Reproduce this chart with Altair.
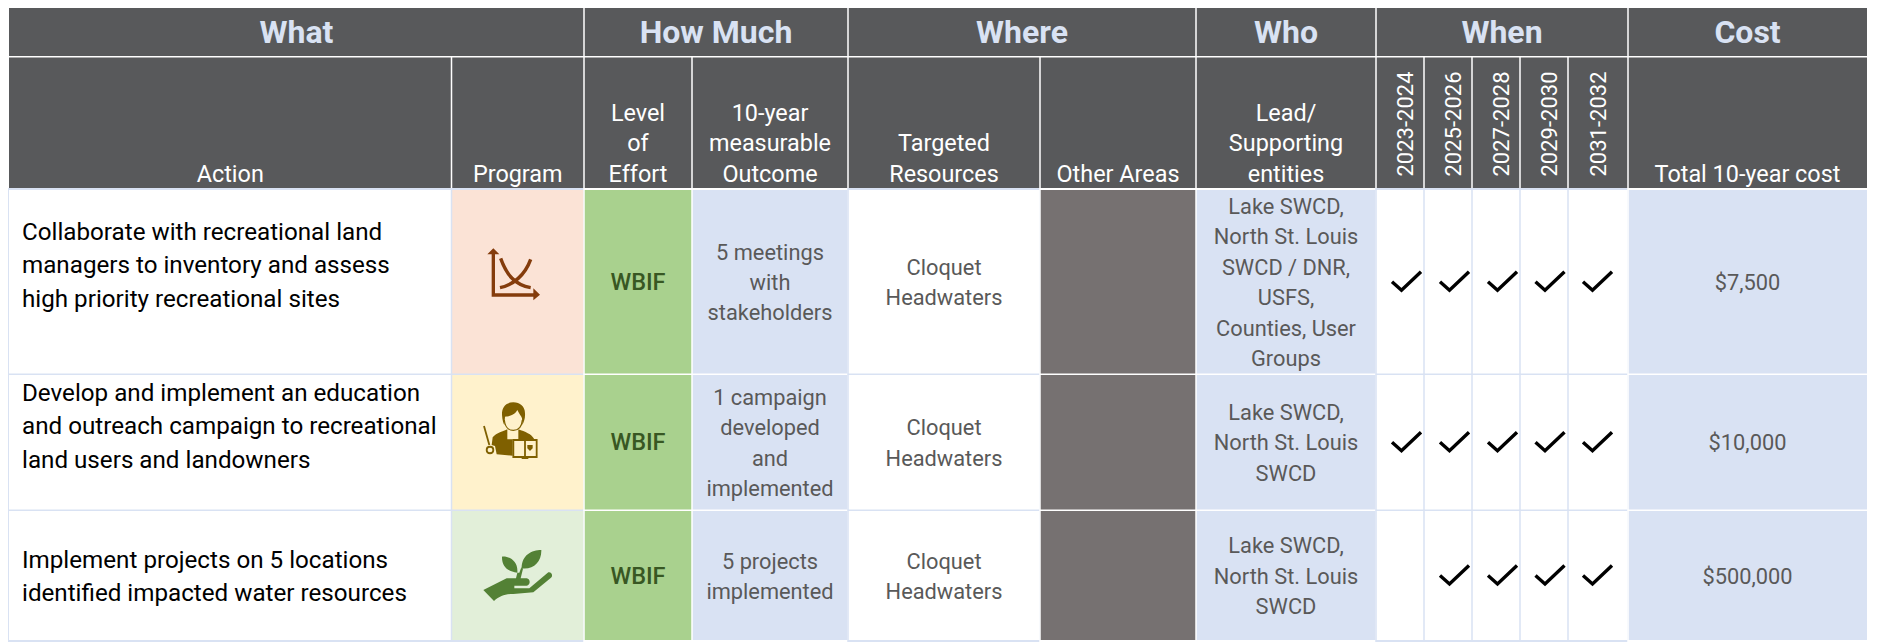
import altair as alt
import pandas as pd

# ---------- table content ----------
GROUPS = ["What", "How Much", "Where", "Who", "When", "Cost"]
COLUMNS = ["Action", "Program", "Level\nof\nEffort", "10-year\nmeasurable\nOutcome",
           "Targeted\nResources", "Other Areas", "Lead/\nSupporting\nentities", "Total 10-year cost"]
PERIODS = ["2023-2024", "2025-2026", "2027-2028", "2029-2030", "2031-2032"]
ACTIONS = ["Collaborate with recreational land\nmanagers to inventory and assess\nhigh priority recreational sites",
           "Develop and implement an education\nand outreach campaign to recreational\nland users and landowners",
           "Implement projects on 5 locations\nidentified impacted water resources"]
EFFORT = ["WBIF", "WBIF", "WBIF"]
OUTCOMES = ["5 meetings\nwith\nstakeholders", "1 campaign\ndeveloped\nand\nimplemented", "5 projects\nimplemented"]
RESOURCES = ["Cloquet\nHeadwaters", "Cloquet\nHeadwaters", "Cloquet\nHeadwaters"]
ENTITIES = ["Lake SWCD,\nNorth St. Louis\nSWCD / DNR,\nUSFS,\nCounties, User\nGroups",
            "Lake SWCD,\nNorth St. Louis\nSWCD", "Lake SWCD,\nNorth St. Louis\nSWCD"]
COSTS = ["$7,500", "$10,000", "$500,000"]
SCHEDULE = [[1, 1, 1, 1, 1], [1, 1, 1, 1, 1], [0, 1, 1, 1, 1]]

# ---------- layout (page pixels) ----------
W_DOM, H_DOM = (8, 1868), (642, 8)
EDGES = [9, 451.5, 584, 692, 848, 1040, 1196, 1376, 1424, 1472, 1520, 1568, 1628, 1867]
ROWS = [(190, 373.5), (375, 509.5), (511, 640)]
HEAD1, HEAD2 = (8, 56), (57.5, 188)
GROUP_SPANS = [(0, 2), (2, 4), (4, 6), (6, 7), (7, 12), (12, 13)]
PERIOD_X = [1405.5, 1453.5, 1502, 1550, 1598.5]
CHECK_X = [1406.5, 1454.5, 1502.5, 1550, 1597.5]
ACTION_Y = [266, 427, 577.5]
GAP = 0.75

DARK, PALE, WHITE = "#58595b", "#d9e2f3", "#ffffff"
GREY_TEXT, OTHER = "#595959", "#767171"
PROGRAM_FILL = ["#fbe3d6", "#fff2cc", "#e2efd9"]
ICON = ["#843c0c", "#7f6000", "#538135"]
BODY_FONT = "Roboto"

X = lambda f="x": alt.X(f + ":Q", scale=alt.Scale(domain=list(W_DOM)), axis=None)
Y = lambda f="y": alt.Y(f + ":Q", scale=alt.Scale(domain=list(H_DOM)), axis=None)


def rects(rows):
    return alt.Chart(pd.DataFrame(rows)).mark_rect(strokeWidth=0).encode(
        x=X("x"), x2="x1:Q", y=Y("y"), y2="y1:Q", color=alt.Color("c:N", scale=None))


def texts(rows, size, color, font=BODY_FONT, weight="normal", align="center", baseline="middle", angle=0):
    return alt.Chart(pd.DataFrame(rows)).mark_text(
        font=font, fontSize=size, fontWeight=weight, color=color, align=align, baseline=baseline,
        angle=angle).encode(x=X("x"), y=Y("y"), text="t:N")


def block(x, y, text, line=30.4):
    """One row per line of a text block centred on y."""
    parts = text.split("\n")
    return [dict(x=x, y=y + (i - (len(parts) - 1) / 2) * line, t=p) for i, p in enumerate(parts)]


def block_up(x, y, text, line=30.3):
    """One row per line of a text block whose last line sits on y."""
    parts = text.split("\n")
    return [dict(x=x, y=y - (len(parts) - 1 - i) * line, t=p) for i, p in enumerate(parts)]


def glyph(path, x, y, color, filled=True, width=1.0, unit=1 / 3):
    d = pd.DataFrame([{"x": x, "y": y}])
    kw = dict(fill=color, strokeWidth=0, opacity=1, fillOpacity=1) if filled else dict(
        stroke=color, strokeWidth=width, fillOpacity=0, opacity=1, filled=False)
    return alt.Chart(d).mark_point(shape=path, size=4 * unit * unit, **kw).encode(x=X("x"), y=Y("y"))


mid = lambda a, b: (a + b) / 2
layers = []

# header cells
head = []
for a, b in GROUP_SPANS:
    head.append(dict(x=EDGES[a] + (GAP if a else 0), x1=EDGES[b] - (GAP if b < 13 else 0),
                     y=HEAD1[0], y1=HEAD1[1], c=DARK))
for i in range(13):
    head.append(dict(x=EDGES[i] + (GAP if i else 0), x1=EDGES[i + 1] - (GAP if i < 12 else 0),
                     y=HEAD2[0], y1=HEAD2[1], c=DARK))
layers.append(rects(head))

# body: backing rule colour, then fill of each cell
BACK = [PALE, PALE, WHITE, WHITE, PALE, WHITE, WHITE, PALE, PALE, PALE, PALE, PALE, WHITE]
back, cells = [], []
for r, (y0, y1) in enumerate(ROWS):
    fills = [WHITE, PROGRAM_FILL[r], "#a9d18e", PALE, WHITE, OTHER, PALE,
             WHITE, WHITE, WHITE, WHITE, WHITE, PALE]
    for i in range(13):
        x0, x1 = EDGES[i], EDGES[i + 1]
        back.append(dict(x=x0 - (1.5 if i == 0 else 0.75), x1=x1 + 0.75, y=y0 - 2, y1=y1 + 2, c=BACK[i]))
        cells.append(dict(x=x0 + (0 if i == 0 else GAP), x1=x1 - (0 if i == 12 else GAP),
                          y=y0, y1=y1, c=fills[i]))
layers += [rects(back), rects(cells)]

# header text
layers.append(texts([dict(x=mid(EDGES[a], EDGES[b]), y=32.5, t=g) for g, (a, b) in zip(GROUPS, GROUP_SPANS)],
                    32, PALE, font="Roboto", weight="bold"))
cols = [0, 1, 2, 3, 4, 5, 6, 12]
rows = []
for i, c in zip(cols, COLUMNS):
    rows += block_up(mid(EDGES[i], EDGES[i + 1]), 181.7, c)
layers.append(texts(rows, 23.4, WHITE, baseline="alphabetic"))
layers.append(texts([dict(x=x, y=124, t=p) for x, p in zip(PERIOD_X, PERIODS)], 22, WHITE, angle=270))

# body text
rows = []
for y, t in zip(ACTION_Y, ACTIONS):
    rows += block(22, y, t, 33.5)
layers.append(texts(rows, 24.2, "#000000", align="left"))
centres = [mid(*r) for r in ROWS]
rows = []
for col, vals in [(3, OUTCOMES), (4, RESOURCES), (6, ENTITIES), (12, COSTS)]:
    for y, t in zip(centres, vals):
        rows += block(mid(EDGES[col], EDGES[col + 1]), y + 1.2, t)
layers.append(texts(rows, 21.8, GREY_TEXT))
layers.append(texts([dict(x=mid(EDGES[2], EDGES[3]), y=y + 1, t=t) for y, t in zip(centres, EFFORT)],
                    23.5, "#385723", weight=500))

# check marks
CHECK = "M-14.5 1 L-5 9.5 L14.5 -9"
for r, row in enumerate(SCHEDULE):
    for x, on in zip(CHECK_X, row):
        if on:
            layers.append(glyph(CHECK, x, centres[r] - 1, "#000000", filled=False, width=3.4, unit=1))

# program icons (glyph outlines in local units)
c = ICON[0]
layers += [
    glyph("M65 100 L75 100 L75 220 L195 220 L195 230 L65 230 Z M52 103 L70 85 L88 103 Z M190 205 L210 224 L190 241 Z",
          470, 220, c),
    glyph("M92 115 C110 165 135 195 182 203 M90 203 C130 195 165 165 182 118", 470, 220, c, filled=False, width=3.4),
]
c = ICON[1]
layers += [
    glyph("M220 127 C195 127 185 145 186 165 C187 180 190 190 193 195 L195 170 C205 170 225 165 232 150 "
          "C240 165 245 170 246 175 L247 195 C252 185 256 175 255 160 C255 140 240 127 220 127 Z "
          "M155 255 L158 232 C170 218 190 215 202 208 L202 238 L218 238 L218 287 L170 283 L165 258 Z "
          "M235 208 C255 215 275 222 283 238 L235 238 Z M262 255 L278 255 L278 265 L270 273 L262 265 Z "
          "M245 292 L265 292 L265 297 L245 297 Z",
          440, 360, c),
    glyph("M193 180 C195 205 210 211 220 211 C232 211 245 205 247 180", 440, 360, c, filled=False, width=1.2),
    glyph("M220 240 L290 240 L290 291 L220 291 Z M255 240 L255 291", 440, 360, c, filled=False, width=1.8),
    glyph("M132 198 L148 255", 440, 360, c, filled=False, width=1.8),
    glyph("M140 270 C140 257 160 257 160 270 C160 283 140 283 140 270 Z", 440, 360, c, filled=False, width=1.8),
]
c = ICON[2]
layers.append(glyph(
    "M96 80 C120 78 145 95 142 128 C115 125 95 110 96 80 Z M214 60 C185 60 155 75 155 115 C190 120 215 95 214 60 Z "
    "M138 145 L142 128 L148 128 L154 112 L159 116 L152 145 Z "
    "M40 180 L110 145 L170 145 C182 147 182 165 170 167 L133 167 L133 175 L178 175 L235 127 "
    "C245 125 250 138 243 143 L190 187 L130 192 C105 192 90 198 72 213 Z",
    470, 530, c))

chart = alt.layer(*layers).properties(
    width=W_DOM[1] - W_DOM[0], height=H_DOM[0] - H_DOM[1], padding=0, background="#ffffff",
    autosize=alt.AutoSizeParams(type="none"),
).configure_view(stroke=None)

chart.save("out.html", embed_options={"renderer": "svg", "actions": False})
